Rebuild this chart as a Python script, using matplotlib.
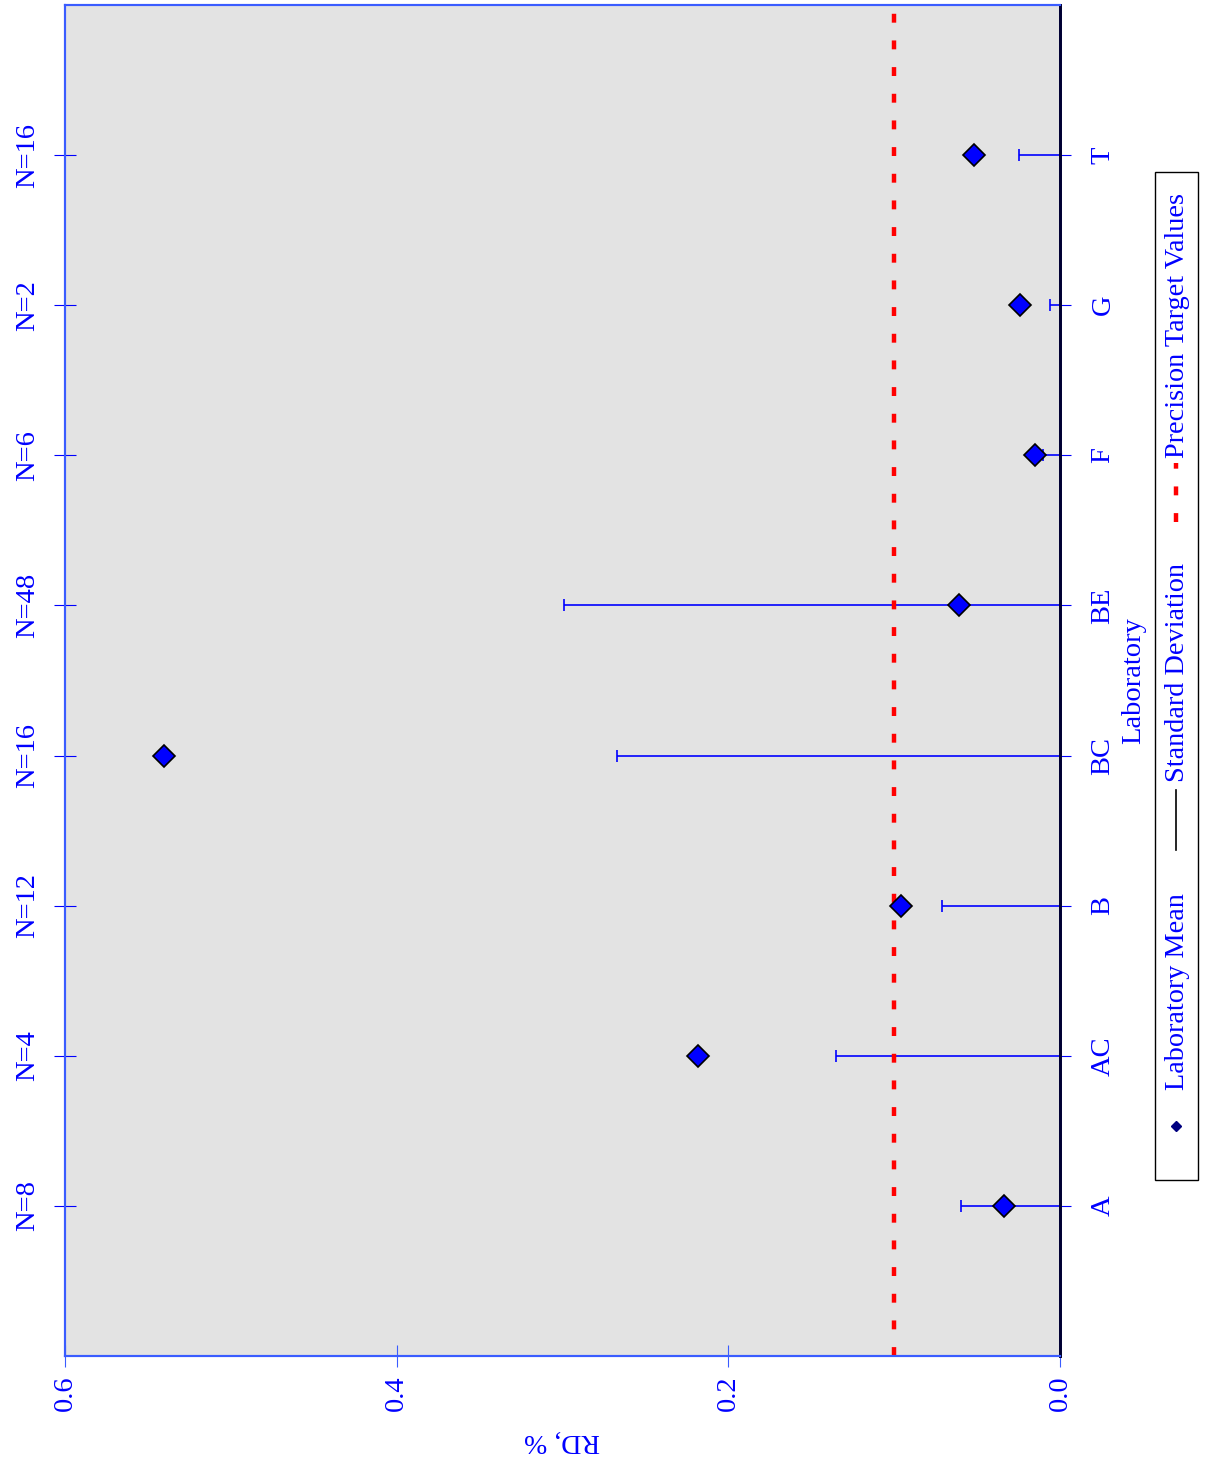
import matplotlib.pyplot as plt
import numpy as np
from matplotlib.patches import Rectangle
from matplotlib.lines import Line2D

plt.rcParams['font.family'] = ['Liberation Serif', 'DejaVu Serif']

labs = ['A', 'AC', 'B', 'BC', 'BE', 'F', 'G', 'T']
n_labels = ['N=8', 'N=4', 'N=12', 'N=16', 'N=48', 'N=6', 'N=2', 'N=16']
lab_mean = [0.034, 0.218, 0.096, 0.540, 0.061, 0.015, 0.024, 0.052]
lab_sd = [0.060, 0.135, 0.071, 0.267, 0.299, 0.010, 0.006, 0.025]
target = 0.10

blue = '#0000ff'
spine_blue = '#3a5cff'
pos = np.arange(1, len(labs) + 1)

fig = plt.figure(figsize=(12.12, 14.61), dpi=100)
W, H = 1212, 1461
ax = fig.add_axes([65 / W, (H - 1356) / H, (1060 - 65) / W, (1356 - 5) / H])
ax2 = ax.twinx()
ax.set_facecolor('#e3e3e3')
ax.set_xlim(0.6, 0.0)
ax.set_ylim(0, 9)

# standard deviation bars (from zero out to the SD value)
ax.hlines(pos, 0, lab_sd, color=blue, lw=1.2, zorder=2)
ax.plot(lab_sd, pos, ls='none', marker='|', ms=8, mew=1.2, color=blue, zorder=2)
# precision target
ax.axvline(target, color='#ff0000', lw=3.2, ls=(0, (2, 4)), zorder=3)
# laboratory means
ax.plot(lab_mean, pos, ls='none', marker='D', ms=11.5, mfc=blue, mec='black',
        mew=1.2, zorder=4)

ax.set_xticks([0.6, 0.4, 0.2, 0.0])
ax.set_xticklabels(['0.6', '0.4', '0.2', '0.0'], rotation=90)
ax.tick_params(axis='x', colors=spine_blue, labelcolor=blue, labelsize=20.5,
               direction='inout', length=16, pad=6)
ax.set_xlabel('RD, %', rotation=180, color=blue, fontsize=20, labelpad=12)

# laboratories on the right
ax.yaxis.tick_right()
ax.yaxis.set_label_position('right')
ax.set_yticks(pos)
ax.set_yticklabels(labs, rotation=90, va='center')
ax.tick_params(axis='y', colors=blue, labelcolor=blue, labelsize=20.5,
               direction='out', length=8, pad=14, left=False, labelleft=False,
               right=True, labelright=True)
ax.set_ylabel('Laboratory', rotation=90, color=blue, fontsize=20.5, labelpad=4)

# counts on the left
ax2.set_ylim(0, 9)
ax2.yaxis.tick_left()
ax2.set_yticks(pos)
ax2.set_yticklabels(n_labels, rotation=90, va='center')
ax2.tick_params(axis='y', colors=blue, labelcolor=blue, labelsize=20.5,
                direction='inout', length=16, pad=10, right=False,
                labelright=False, left=True, labelleft=True)

for a in (ax, ax2):
    for side in ('left', 'top', 'bottom'):
        a.spines[side].set_color(spine_blue)
        a.spines[side].set_linewidth(1.5)
    a.spines['right'].set_color('#000033')
    a.spines['right'].set_linewidth(2)

# legend, drawn rotated like the rest of the chart
lg = fig.add_axes([0, 0, 1, 1], facecolor='none')
lg.set_xlim(0, W)
lg.set_ylim(H, 0)
lg.axis('off')
lg.add_patch(Rectangle((1155, 172), 43, 1008, fill=False, ec='black', lw=1))
lg.plot([1176], [1126], ls='none', marker='D', ms=5.5, mfc='#000080', mec='#000080')
lg.text(1177, 1090, 'Laboratory Mean', rotation=90, ha='center', va='bottom',
        color=blue, fontsize=20.3)
lg.add_line(Line2D([1176, 1176], [850, 790], color='black', lw=1.2))
lg.text(1177, 782, 'Standard Deviation', rotation=90, ha='center', va='bottom',
        color=blue, fontsize=20.3)
lg.add_line(Line2D([1176, 1176], [522, 463], color='#ff0000', lw=3.2,
                   ls=(0, (2, 4))))
lg.text(1177, 458, 'Precision Target Values', rotation=90, ha='center',
        va='bottom', color=blue, fontsize=20.3)

fig.savefig('out.png', dpi=100)
